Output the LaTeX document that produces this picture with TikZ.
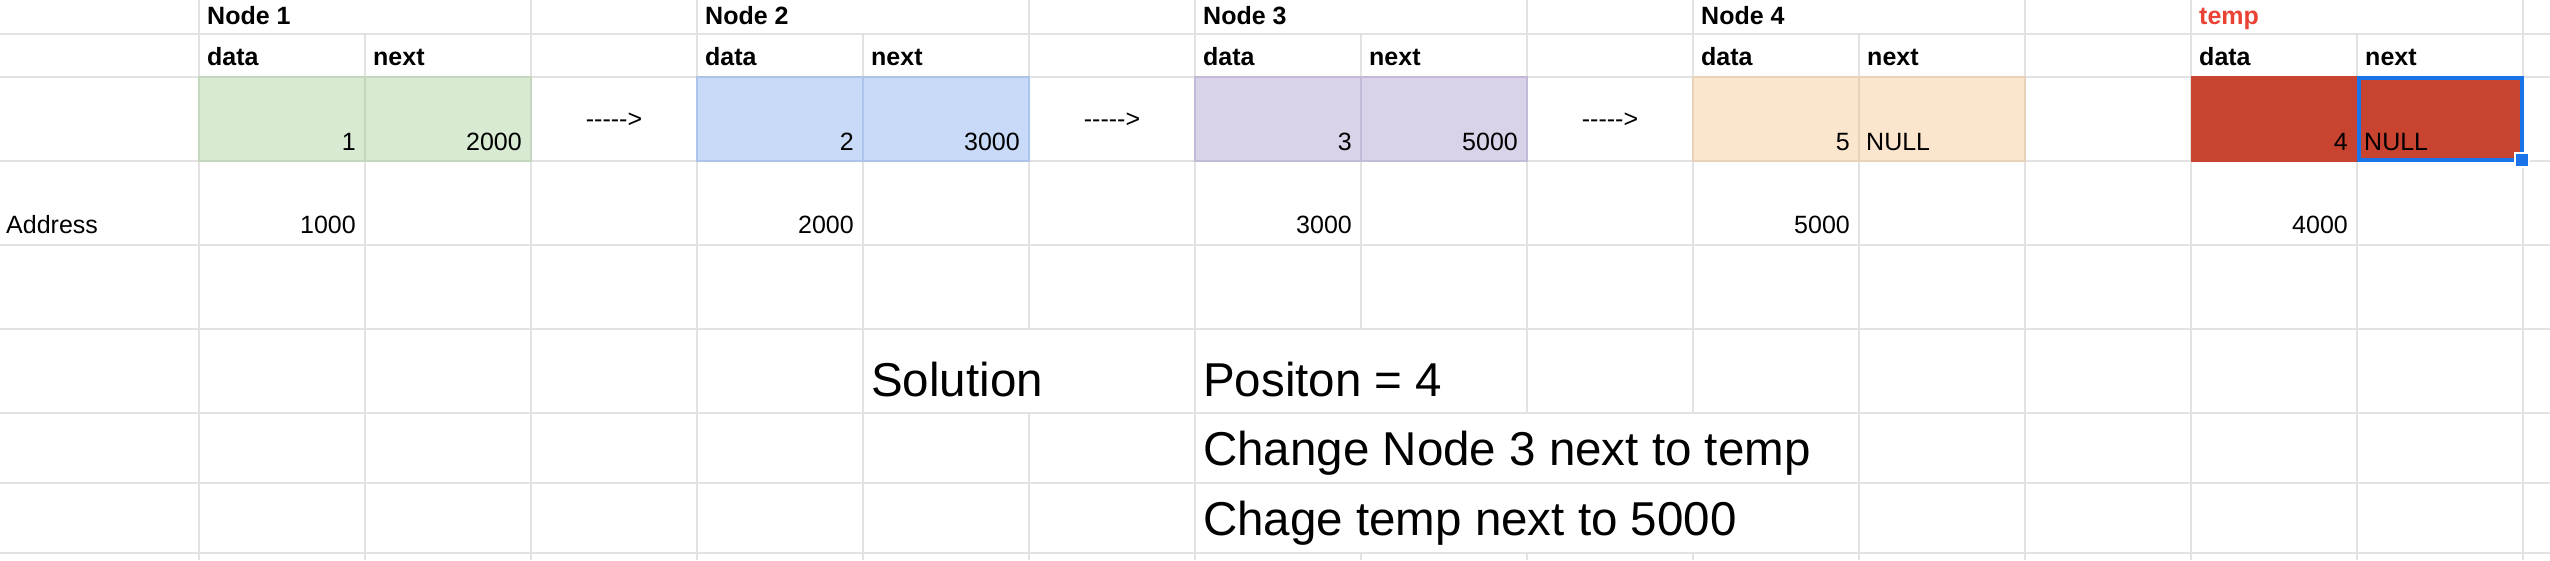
\documentclass[tikz,border=0pt]{standalone}
\usepackage{fontspec}
\setmainfont{Liberation Sans}
\newfontfamily\arrowfont{Liberation Sans}[Ligatures=TeXOff]
\definecolor{grid}{HTML}{E2E2E2}
\definecolor{gfill}{HTML}{D9EAD3}\definecolor{gline}{HTML}{C3D7BC}
\definecolor{bfill}{HTML}{C9DAF8}\definecolor{bline}{HTML}{ADC3E8}
\definecolor{pfill}{HTML}{D9D2E9}\definecolor{pline}{HTML}{C2BAD6}
\definecolor{ofill}{HTML}{FCE5CD}\definecolor{oline}{HTML}{E9D2BA}
\definecolor{rfill}{HTML}{C84330}\definecolor{rline}{HTML}{B53A28}
\definecolor{sel}{HTML}{1A73E8}
\definecolor{tempred}{HTML}{EA4335}
\begin{document}
\begin{tikzpicture}[x=1pt,y=-1pt,
  gl/.style={draw=grid,line width=1.8pt},
  sm/.style={inner sep=0pt,font=\fontsize{25}{30}\selectfont},
  hd/.style={sm,font=\fontsize{25}{30}\selectfont\bfseries},
  lg/.style={inner sep=0pt,font=\fontsize{47.5}{57}\selectfont},
  arr/.style={inner sep=0pt,font=\fontsize{25}{30}\selectfont\arrowfont,anchor=base},
  lft/.style={anchor=base west},
  rgt/.style={anchor=base east}]
\useasboundingbox (0,0) rectangle (2550,560);
\fill[white] (0,0) rectangle (2550,560);
% horizontal grid lines
\foreach \y in {34,77,161,245,329,413,483,553}
  \draw[gl] (0,\y) -- (2550,\y);
% vertical grid lines
\foreach \x in {199,531,697,1195,2025,2191,2523}
  \draw[gl] (\x,0) -- (\x,560);
\foreach \x in {365,863,1859,2357}
  \draw[gl] (\x,34) -- (\x,560);
\draw[gl] (1029,0) -- (1029,329) (1029,413) -- (1029,560);
\draw[gl] (1361,34) -- (1361,329) (1361,553) -- (1361,560);
\draw[gl] (1527,0) -- (1527,413) (1527,553) -- (1527,560);
\draw[gl] (1693,0) -- (1693,413) (1693,553) -- (1693,560);
% coloured cells
\fill[gfill] (199,77) rectangle (531,161);
\draw[gline,line width=1.8pt] (199,77) rectangle (531,161) (365,77) -- (365,161);
\fill[bfill] (697,77) rectangle (1029,161);
\draw[bline,line width=1.8pt] (697,77) rectangle (1029,161) (863,77) -- (863,161);
\fill[pfill] (1195,77) rectangle (1527,161);
\draw[pline,line width=1.8pt] (1195,77) rectangle (1527,161) (1361,77) -- (1361,161);
\fill[ofill] (1693,77) rectangle (2025,161);
\draw[oline,line width=1.8pt] (1693,77) rectangle (2025,161) (1859,77) -- (1859,161);
\fill[rfill] (2191,76) rectangle (2523,162);
% selection
\draw[sel,line width=4pt] (2359,78) rectangle (2522,160);
\fill[white] (2514,152) rectangle (2530,168);
\fill[sel] (2516,154) rectangle (2528,166);
% headers
\node[hd,lft] (h1) at (207,24) {Node 1};
\node[hd,lft] (h2) at (705,24) {Node 2};
\node[hd,lft] (h3) at (1203,24) {Node 3};
\node[hd,lft] (h4) at (1701,24) {Node 4};
\node[hd,lft,text=tempred] (h5) at (2199,24) {temp};
\node[hd,lft] (d1) at (207,65) {data};
\node[hd,lft] (n1) at (373,65) {next};
\node[hd,lft] (d2) at (705,65) {data};
\node[hd,lft] (n2) at (871,65) {next};
\node[hd,lft] (d3) at (1203,65) {data};
\node[hd,lft] (n3) at (1369,65) {next};
\node[hd,lft] (d4) at (1701,65) {data};
\node[hd,lft] (n4) at (1867,65) {next};
\node[hd,lft] (d5) at (2199,65) {data};
\node[hd,lft] (n5) at (2365,65) {next};
% values
\node[sm,rgt] (v1) at (356,150) {1};
\node[sm,rgt] (p1) at (522,150) {2000};
\node[sm,rgt] (v2) at (854,150) {2};
\node[sm,rgt] (p2) at (1020,150) {3000};
\node[sm,rgt] (v3) at (1352,150) {3};
\node[sm,rgt] (p3) at (1518,150) {5000};
\node[sm,rgt] (v4) at (1850,150) {5};
\node[sm,lft] (p4) at (1866,150) {NULL};
\node[sm,rgt] (v5) at (2348,150) {4};
\node[sm,lft] (p5) at (2364,150) {NULL};
% arrows as text
\node[arr] (a1) at (614,127) {----->};
\node[arr] (a2) at (1112,127) {----->};
\node[arr] (a3) at (1610,127) {----->};
% addresses
\node[sm,lft] (addr) at (6,233) {Address};
\node[sm,rgt] (ad1) at (356,233) {1000};
\node[sm,rgt] (ad2) at (854,233) {2000};
\node[sm,rgt] (ad3) at (1352,233) {3000};
\node[sm,rgt] (ad4) at (1850,233) {5000};
\node[sm,rgt] (ad5) at (2348,233) {4000};
% solution
\node[lg,lft] (sol) at (871,396) {Solution};
\node[lg,lft] (pos) at (1203,396) {Positon = 4};
\node[lg,lft] (st1) at (1203,465) {Change Node 3 next to temp};
\node[lg,lft] (st2) at (1203,535) {Chage temp next to 5000};
\end{tikzpicture}
\end{document}
